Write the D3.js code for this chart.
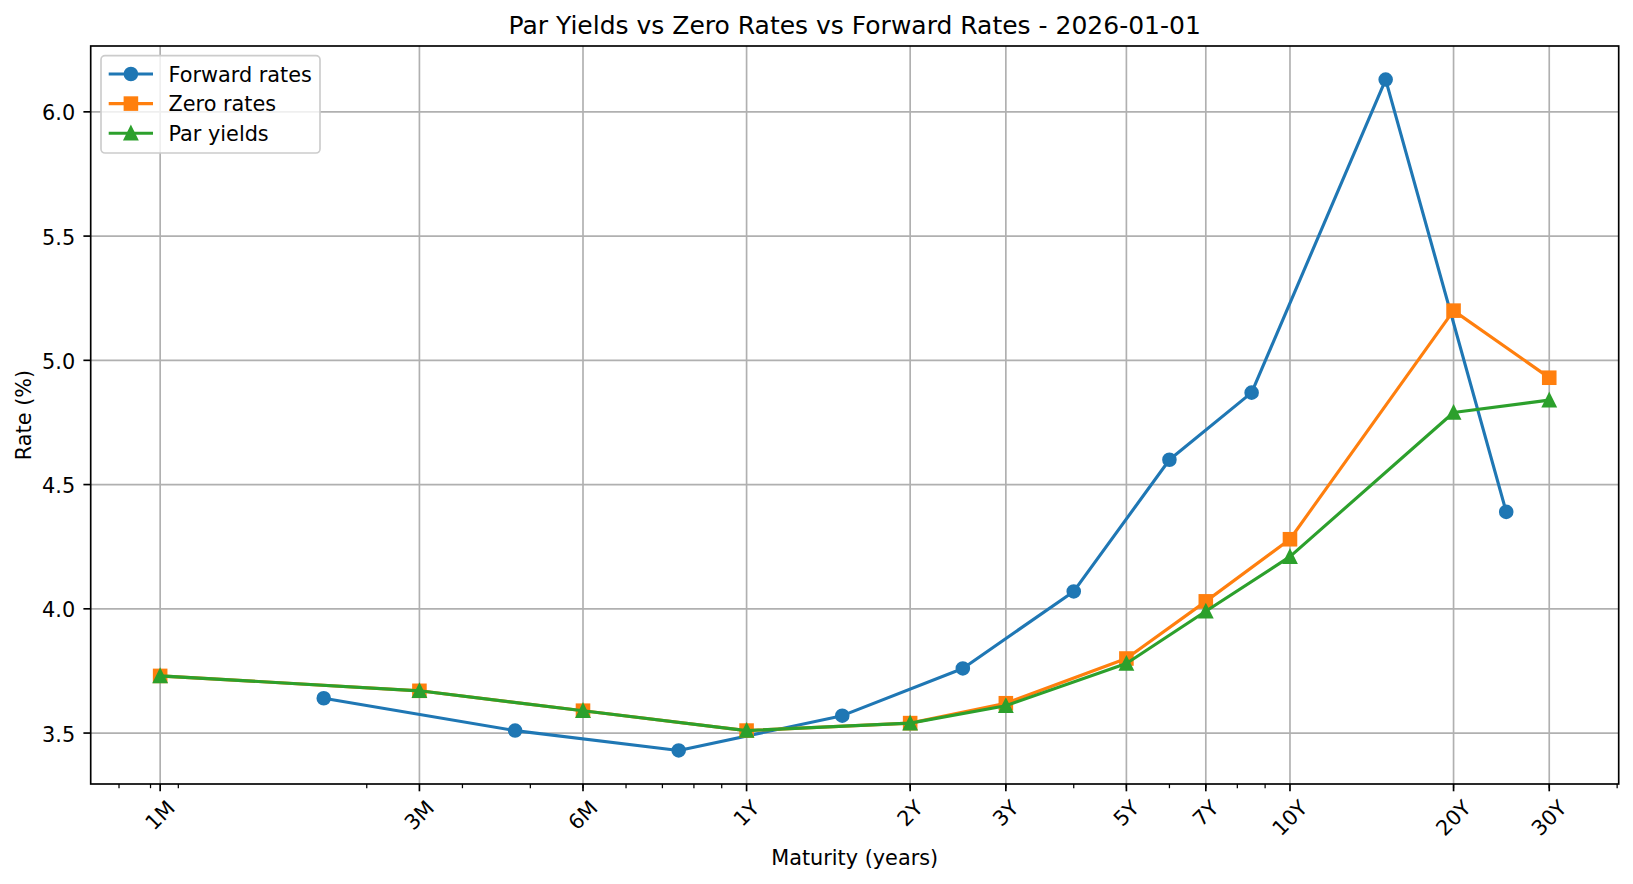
<!DOCTYPE html>
<html>
<head>
<meta charset="utf-8">
<script src="https://cdn.jsdelivr.net/npm/d3@7"></script>
<style>
  body { margin: 0; background: #fff; }
  text { font-family: "DejaVu Sans", sans-serif; fill: #000; }
</style>
</head>
<body>
<svg id="chart"></svg>
<script>
// Maturity tenors (years) and their tick labels
const tenorLabels = ["1M", "3M", "6M", "1Y", "2Y", "3Y", "5Y", "7Y", "10Y", "20Y", "30Y"];
const tenorYears = [1/12, 0.25, 0.5, 1, 2, 3, 5, 7, 10, 20, 30];

// Curves (%)
const zeroRates = [3.73, 3.67, 3.59, 3.51, 3.54, 3.62, 3.80, 4.03, 4.28, 5.20, 4.93];
const parYields = [3.73, 3.67, 3.59, 3.51, 3.54, 3.61, 3.78, 3.99, 4.21, 4.79, 4.84];

// Forward rates sit at the middle of each tenor interval
const fwdYears = [2/12, 0.375, 0.75, 1.5, 2.5, 4, 6, 8.5, 15, 25];
const fwdRates = [3.64, 3.51, 3.43, 3.57, 3.76, 4.07, 4.60, 4.87, 6.13, 4.39];

const yTicks = [3.5, 4.0, 4.5, 5.0, 5.5, 6.0];

const W = 1633, H = 884;
const margin = {top: 46, right: 14.3, bottom: 100, left: 90.7};
const width = W - margin.left - margin.right,
      height = H - margin.top - margin.bottom;

const svg = d3.select("#chart").attr("width", W).attr("height", H);
const g = svg.append("g").attr("transform", `translate(${margin.left},${margin.top})`);

// matplotlib-like 5% padding (log space on x)
const allX = tenorYears.concat(fwdYears);
const lx0 = Math.log10(d3.min(allX)), lx1 = Math.log10(d3.max(allX));
const padX = (lx1 - lx0) * 0.05;
const xScale = d3.scaleLog()
    .domain([Math.pow(10, lx0 - padX), Math.pow(10, lx1 + padX)])
    .range([0, width]);

const allY = zeroRates.concat(parYields, fwdRates);
const y0 = d3.min(allY), y1 = d3.max(allY), padY = (y1 - y0) * 0.05;
const yScale = d3.scaleLinear().domain([y0 - padY, y1 + padY]).range([height, 0]);

// Grid
g.append("g").selectAll("line").data(tenorYears).join("line")
    .attr("x1", d => xScale(d)).attr("x2", d => xScale(d))
    .attr("y1", 0).attr("y2", height)
    .attr("stroke", "#b0b0b0").attr("stroke-width", 1.67);
g.append("g").selectAll("line").data(yTicks).join("line")
    .attr("x1", 0).attr("x2", width)
    .attr("y1", d => yScale(d)).attr("y2", d => yScale(d))
    .attr("stroke", "#b0b0b0").attr("stroke-width", 1.67);

// Series
const series = [
  {name: "Forward rates", xs: fwdYears, ys: fwdRates, color: "#1f77b4", marker: "circle"},
  {name: "Zero rates", xs: tenorYears, ys: zeroRates, color: "#ff7f0e", marker: "square"},
  {name: "Par yields", xs: tenorYears, ys: parYields, color: "#2ca02c", marker: "triangle"}
];

const ms = 12.5;
function drawMarker(sel, type, color) {
  if (type === "circle") {
    sel.append("circle").attr("r", ms / 2);
  } else if (type === "square") {
    sel.append("rect").attr("x", -ms / 2).attr("y", -ms / 2).attr("width", ms).attr("height", ms);
  } else {
    sel.append("path").attr("d", `M0,${-ms / 2}L${ms / 2},${ms / 2}L${-ms / 2},${ms / 2}Z`);
  }
  sel.selectAll("*").attr("fill", color).attr("stroke", color)
      .attr("stroke-width", 2.08).attr("stroke-linejoin", "miter");
}

const line = d3.line().x(d => xScale(d[0])).y(d => yScale(d[1]));

series.forEach(s => {
  const pts = s.xs.map((x, i) => [x, s.ys[i]]);
  g.append("path").datum(pts)
      .attr("d", line)
      .attr("fill", "none")
      .attr("stroke", s.color)
      .attr("stroke-width", 3.125)
      .attr("stroke-linejoin", "round")
      .attr("stroke-linecap", "square");
  pts.forEach(p => {
    const m = g.append("g").attr("transform", `translate(${xScale(p[0])},${yScale(p[1])})`);
    drawMarker(m, s.marker, s.color);
  });
});

// Spines
g.append("rect").attr("x", 0).attr("y", 0).attr("width", width).attr("height", height)
    .attr("fill", "none").attr("stroke", "#000").attr("stroke-width", 1.67);

// X axis: major ticks, log minor ticks
const [dLo, dHi] = xScale.domain();
const minorTicks = [];
for (let e = Math.floor(Math.log10(dLo)); e <= Math.ceil(Math.log10(dHi)); e++) {
  for (let k = 2; k <= 9; k++) {
    const v = k * Math.pow(10, e);
    if (v >= dLo && v <= dHi) minorTicks.push(v);
  }
}
g.append("g").selectAll("line").data(minorTicks).join("line")
    .attr("x1", d => xScale(d)).attr("x2", d => xScale(d))
    .attr("y1", height).attr("y2", height + 4.2)
    .attr("stroke", "#000").attr("stroke-width", 1.25);
g.append("g").selectAll("line").data(tenorYears).join("line")
    .attr("x1", d => xScale(d)).attr("x2", d => xScale(d))
    .attr("y1", height).attr("y2", height + 7.3)
    .attr("stroke", "#000").attr("stroke-width", 1.67);

const xLabels = g.append("g").selectAll("text").data(tenorYears).join("text")
    .attr("font-size", 20.8)
    .attr("text-anchor", "middle")
    .attr("dominant-baseline", "central")
    .text((d, i) => tenorLabels[i]);
xLabels.each(function(d) {
  const w = this.getComputedTextLength();
  const cx = xScale(d), cy = height + 15 + (w + 15) * 0.3536;
  d3.select(this).attr("x", cx).attr("y", cy)
      .attr("transform", `rotate(-45,${cx},${cy})`);
});

// Y axis
g.append("g").selectAll("line").data(yTicks).join("line")
    .attr("x1", -7.3).attr("x2", 0)
    .attr("y1", d => yScale(d)).attr("y2", d => yScale(d))
    .attr("stroke", "#000").attr("stroke-width", 1.67);
g.append("g").selectAll("text").data(yTicks).join("text")
    .attr("x", -15.5)
    .attr("y", d => yScale(d) + 8.6)
    .attr("text-anchor", "end")
    .attr("font-size", 20.8)
    .text(d => d.toFixed(1));

// Labels and title
svg.append("text")
    .attr("x", margin.left + width / 2).attr("y", 865)
    .attr("text-anchor", "middle").attr("font-size", 20.8)
    .text("Maturity (years)");
svg.append("text")
    .attr("transform", `translate(30.7,${margin.top + height / 2}) rotate(-90)`)
    .attr("text-anchor", "middle").attr("font-size", 20.8)
    .text("Rate (%)");
svg.append("text")
    .attr("x", margin.left + width / 2).attr("y", 34)
    .attr("text-anchor", "middle").attr("font-size", 25)
    .text("Par Yields vs Zero Rates vs Forward Rates - 2026-01-01");

// Legend
const legend = svg.append("g").attr("transform", "translate(101,55.7)");
legend.append("rect")
    .attr("width", 219).attr("height", 97.3).attr("rx", 4)
    .attr("fill", "#fff").attr("fill-opacity", 0.8)
    .attr("stroke", "#cccccc").attr("stroke-width", 1.67);
series.forEach((s, i) => {
  const row = legend.append("g").attr("transform", `translate(0,${18.3 + i * 29.6})`);
  row.append("line").attr("x1", 7.7).attr("x2", 52)
      .attr("stroke", s.color).attr("stroke-width", 3.125);
  drawMarker(row.append("g").attr("transform", "translate(29.9,0)"), s.marker, s.color);
  row.append("text").attr("x", 67.5).attr("y", 7.5)
      .attr("font-size", 20.8).text(s.name);
});
</script>
</body>
</html>
